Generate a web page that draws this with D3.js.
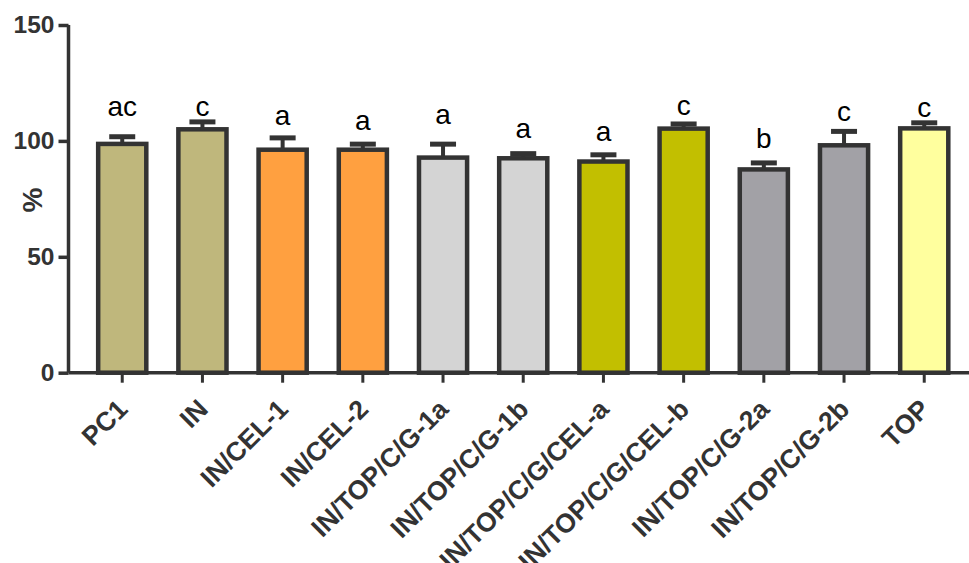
<!DOCTYPE html>
<html>
<head>
<meta charset="utf-8">
<script src="https://cdn.jsdelivr.net/npm/d3@7"></script>
<style>
  html, body { margin: 0; padding: 0; background: #fff; }
  svg { display: block; }
</style>
</head>
<body>
<svg id="chart" width="969" height="563"></svg>
<script>
// Groups, mean response (%), upper error (SD) and significance letters
const categories = ["PC1", "IN", "IN/CEL-1", "IN/CEL-2", "IN/TOP/C/G-1a", "IN/TOP/C/G-1b",
  "IN/TOP/C/G/CEL-a", "IN/TOP/C/G/CEL-b", "IN/TOP/C/G-2a", "IN/TOP/C/G-2b", "TOP"];
const means = [98.7, 105.0, 96.2, 96.2, 92.8, 92.5, 91.1, 105.3, 87.7, 98.1, 105.4];
const errors = [3.1, 3.2, 5.1, 2.4, 5.8, 2.0, 2.9, 2.0, 2.8, 6.0, 2.4];
const letters = ["ac", "c", "a", "a", "a", "a", "a", "c", "b", "c", "c"];
// Level (in %) at which each letter's baseline sits
const letterLevels = [110.7, 110.7, 106.9, 104.7, 107.4, 101.4, 100.1, 111.2, 96.9, 108.7, 110.3];
const fills = ["#BFB77C", "#BFB77C", "#FFA040", "#FFA040", "#D4D4D4", "#D4D4D4",
  "#C2BF00", "#C2BF00", "#A2A1A6", "#A2A1A6", "#FFFF9E"];
const yTicks = [0, 50, 100, 150];

const svg = d3.select("#chart");
const ink = "#333333";
const font = "Liberation Sans, Arial, sans-serif";
const x0 = 68.5, yBase = 372.7, yTop = 25;

const x = d3.scaleBand()
  .domain(categories)
  .range([x0, x0 + 80.2 * 11.34])
  .paddingInner(0.4)
  .paddingOuter(0.37);

const y = d3.scaleLinear().domain([0, 150]).range([yBase, yTop]);
const cx = d => x(d) + x.bandwidth() / 2;

// Bars
const g = svg.append("g");
g.selectAll("rect.bar")
  .data(categories)
  .enter().append("rect")
  .attr("class", "bar")
  .attr("x", d => x(d))
  .attr("width", x.bandwidth())
  .attr("y", (d, i) => y(means[i]))
  .attr("height", (d, i) => y(0) - y(means[i]))
  .attr("fill", (d, i) => fills[i])
  .attr("stroke", ink)
  .attr("stroke-width", 4.5);

// Upper error bars
const capW = 26;
g.selectAll("line.err")
  .data(categories)
  .enter().append("line")
  .attr("class", "err")
  .attr("x1", cx)
  .attr("x2", cx)
  .attr("y1", (d, i) => y(means[i]))
  .attr("y2", (d, i) => y(means[i] + errors[i]))
  .attr("stroke", ink)
  .attr("stroke-width", 4);
g.selectAll("line.cap")
  .data(categories)
  .enter().append("line")
  .attr("class", "cap")
  .attr("x1", d => cx(d) - capW / 2)
  .attr("x2", d => cx(d) + capW / 2)
  .attr("y1", (d, i) => y(means[i] + errors[i]))
  .attr("y2", (d, i) => y(means[i] + errors[i]))
  .attr("stroke", ink)
  .attr("stroke-width", 5);

// Significance letters
g.selectAll("text.letter")
  .data(categories)
  .enter().append("text")
  .attr("class", "letter")
  .attr("x", cx)
  .attr("y", (d, i) => y(letterLevels[i]))
  .attr("text-anchor", "middle")
  .attr("font-family", font)
  .attr("font-size", 28)
  .attr("fill", "#000")
  .text((d, i) => letters[i]);

// Y axis
const yAxis = svg.append("g")
  .attr("transform", `translate(${x0},0)`)
  .call(d3.axisLeft(y).tickValues(yTicks).tickSize(10).tickPadding(4).tickFormat(d3.format("d")));
yAxis.select(".domain").attr("stroke", ink).attr("stroke-width", 3.5)
  .attr("d", `M0,${yTop}V${yBase}`);
yAxis.selectAll(".tick line").attr("stroke", ink).attr("stroke-width", 3.5);
yAxis.selectAll(".tick text")
  .attr("font-family", font)
  .attr("font-weight", "bold")
  .attr("font-size", 24.5)
  .attr("fill", ink);

// X axis with slanted group names
const xAxis = svg.append("g")
  .attr("transform", `translate(0,${yBase})`)
  .call(d3.axisBottom(x).tickSize(10).tickPadding(4));
xAxis.select(".domain").attr("stroke", ink).attr("stroke-width", 3.5)
  .attr("d", `M${x0},0H969`);
xAxis.selectAll(".tick line").attr("stroke", ink).attr("stroke-width", 3);
xAxis.selectAll(".tick text")
  .attr("font-family", font)
  .attr("font-weight", "bold")
  .attr("font-size", 26.5)
  .attr("fill", ink)
  .attr("text-anchor", "end")
  .attr("dy", 0)
  .attr("y", 0)
  .attr("x", 0)
  .attr("transform", "translate(7,38) rotate(-45)");

// Y axis title
svg.append("text")
  .attr("transform", "translate(42,200) rotate(-90)")
  .attr("text-anchor", "middle")
  .attr("font-family", font)
  .attr("font-weight", "bold")
  .attr("font-size", 28)
  .attr("fill", ink)
  .text("%");
</script>
</body>
</html>
